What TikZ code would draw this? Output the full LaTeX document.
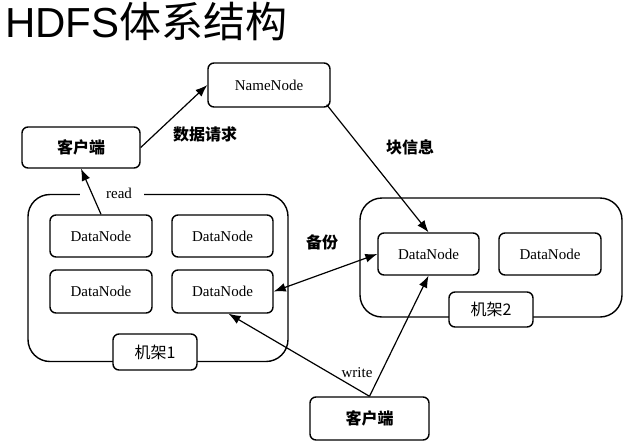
\documentclass[tikz,border=0pt]{standalone}
\usepackage{fontspec}
\setmainfont{Liberation Serif}
\newfontfamily\cjk{Noto Sans CJK SC}
\newfontfamily\titlefont{Liberation Sans}
\usetikzlibrary{arrows.meta}

\begin{document}
\begin{tikzpicture}[
    x=1pt,y=-1pt,
    box/.style={draw,fill=white,rounded corners=6pt,line width=1.4pt,inner sep=0pt,align=center,font=\fontsize{15}{17}\selectfont},
    cjkbox/.style={box,font=\cjk\bfseries\fontsize{16}{18}\selectfont},
    rackbox/.style={box,font=\cjk\fontsize{16}{18}\selectfont},
    rack/.style={draw,rounded corners=22pt,line width=1.4pt,inner sep=0pt},
    lbl/.style={inner sep=1pt,font=\cjk\bfseries\fontsize{16}{18}\selectfont},
    arrow/.style={-{Latex[length=12pt,width=9pt]},line width=1.2pt}
  ]
    \useasboundingbox (0,0) rectangle (628,447);
    \node[anchor=base west,inner sep=0pt,font=\fontsize{42}{46}\selectfont] (title) at (5,37) {\titlefont HDFS\cjk 体系结构};
    % NameNode and client
    \node[box,minimum width=122,minimum height=44] (namenode) at (269,85) {NameNode};
    \node[cjkbox,minimum width=118,minimum height=41] (client1) at (81,147.5) {客户端};
    % rack 1
    \node[rack,minimum width=260,minimum height=167] (rack1) at (158,278) {};
    \node[box,minimum width=102,minimum height=42] (dn11) at (101,236) {DataNode};
    \node[box,minimum width=101,minimum height=42] (dn12) at (222.5,236) {DataNode};
    \node[box,minimum width=102,minimum height=43] (dn21) at (101,291.5) {DataNode};
    \node[box,minimum width=101,minimum height=43] (dn22) at (222.5,291.5) {DataNode};
    \node[rackbox,minimum width=84,minimum height=36] (rack1lbl) at (155,352) {机架1};
    % rack 2
    \node[rack,minimum width=262,minimum height=119] (rack2) at (491,257.5) {};
    \node[box,minimum width=101,minimum height=42] (dn31) at (428.5,254) {DataNode};
    \node[box,minimum width=102,minimum height=42] (dn32) at (550,254) {DataNode};
    \node[rackbox,minimum width=84,minimum height=35] (rack2lbl) at (491,309.5) {机架2};
    % writing client
    \node[cjkbox,minimum width=119,minimum height=43] (client2) at (369.5,418.5) {客户端};
    % labels
    \node[fill=white,minimum width=64,inner sep=0pt,font=\fontsize{15}{17}\selectfont] (readlbl) at (112,193) {\hspace*{14pt}read};
    \node[lbl] (reqlbl) at (205,134) {数据请求};
    \node[lbl] (blklbl) at (410,147) {块信息};
    \node[lbl] (baklbl) at (322,242) {备份};
    \node[inner sep=1pt,font=\fontsize{15}{17}\selectfont] (writelbl) at (357,373) {write};
    % connectors
    \draw[arrow] (client1.east)--(namenode.west);
    \draw[arrow] ([xshift=-4pt,yshift=3pt]namenode.south east)--(dn31.north);
    \draw[arrow] (dn11.north)--(client1.south);
    \draw[{Latex[length=12pt,width=9pt]}-{Latex[length=12pt,width=9pt]},line width=1.2pt] (dn22.east)--(dn31.west);
    \draw[arrow] (client2.north)--([xshift=6pt]dn22.south);
    \draw[arrow] (client2.north)--(dn31.south);
  \end{tikzpicture}
\end{document}
